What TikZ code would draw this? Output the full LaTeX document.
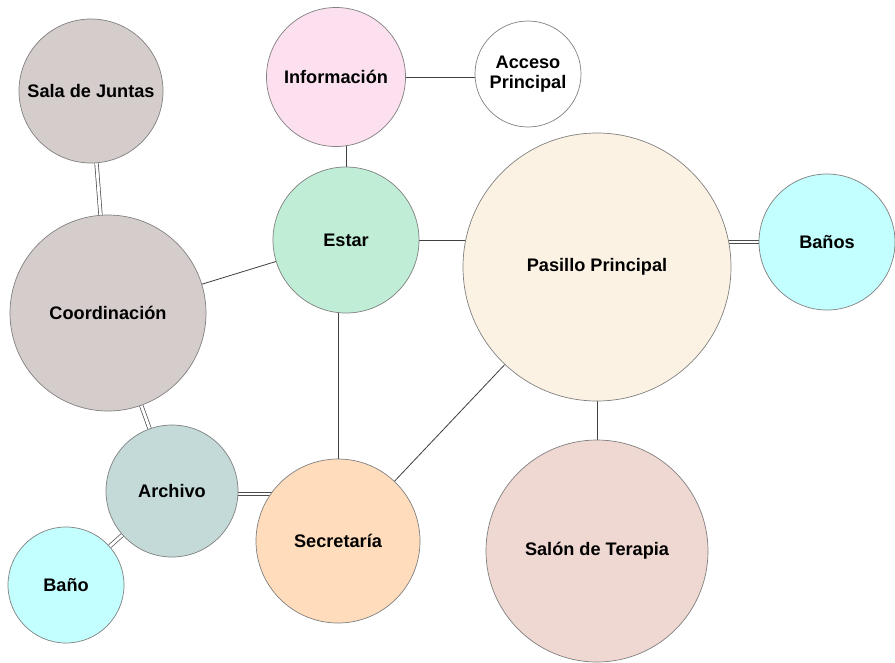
\documentclass[tikz,border=0pt]{standalone}
\usepackage{fontspec}
\setmainfont{Liberation Sans}
\usetikzlibrary{backgrounds}
\definecolor{juntas}{HTML}{D5CDCB}
\definecolor{info}{HTML}{FDE0EF}
\definecolor{estar}{HTML}{C0EDD6}
\definecolor{pasillo}{HTML}{FCF2E3}
\definecolor{bano}{HTML}{C3FFFF}
\definecolor{archivo}{HTML}{C3DAD9}
\definecolor{secre}{HTML}{FFDCBC}
\definecolor{terapia}{HTML}{F0D8D2}
\tikzstyle{room}=[circle, draw=black!50, line width=0.6pt, font=\bfseries\fontsize{15.5}{17.5}\selectfont, align=center, inner sep=0pt]
\tikzstyle{link}=[draw=black!75, line width=0.7pt]
\tikzstyle{twin}=[draw=black!70, line width=0.6pt, double=white, double distance=2.4pt]

\begin{document}
\begin{tikzpicture}[x=0.03cm, y=-0.03cm]
                \useasboundingbox (0,0) rectangle (895,662);
                % rooms
                \node[room, fill=juntas,  minimum size=144*0.03cm] (juntas)  at (91, 91)   {Sala de Juntas};
                \node[room, fill=info,    minimum size=139*0.03cm] (info)    at (336, 77)  {Información};
                \node[room, fill=white,   minimum size=106*0.03cm] (acceso)  at (528, 74)  {Acceso\\Principal};
                \node[room, fill=estar,   minimum size=146*0.03cm] (estar)   at (346, 240) {Estar};
                \node[room, fill=pasillo, minimum size=268*0.03cm] (pasillo) at (597, 267) {Pasillo Principal};
                \node[room, fill=bano,    minimum size=136*0.03cm] (banos)   at (827, 242) {Baños};
                \node[room, fill=juntas,  minimum size=196*0.03cm] (coord)   at (108, 313) {Coordinación};
                \node[room, fill=archivo, minimum size=132*0.03cm] (archivo) at (172, 491) {Archivo};
                \node[room, fill=secre,   minimum size=164*0.03cm] (secre)   at (338, 541) {Secretaría};
                \node[room, fill=bano,    minimum size=116*0.03cm] (bano)    at (66, 585)  {Baño};
                \node[room, fill=terapia, minimum size=222*0.03cm] (terapia) at (597, 551) {Salón de Terapia};
                % links, behind the rooms
                \begin{pgfonlayer}{background}
                \draw[link] (info) -- (info -| acceso);
                \draw[link] (estar) -- (estar |- info);
                \draw[link] (estar) -- (estar -| pasillo);
                \draw[link] (coord) -- (estar);
                \draw[link] (secre) -- (secre |- estar);
                \draw[link] (pasillo) -- (secre);
                \draw[link] (pasillo) -- (terapia);
                \draw[twin] (banos) -- (banos -| pasillo);
                \draw[twin] (juntas) -- (coord);
                \draw[twin] (coord) -- (archivo);
                \draw[twin] ([yshift=-3*0.03cm]archivo.center) -- ([yshift=-3*0.03cm]archivo.center -| secre);
                \draw[twin] (archivo) -- (bano);
                \end{pgfonlayer}
            \end{tikzpicture}
\end{document}
